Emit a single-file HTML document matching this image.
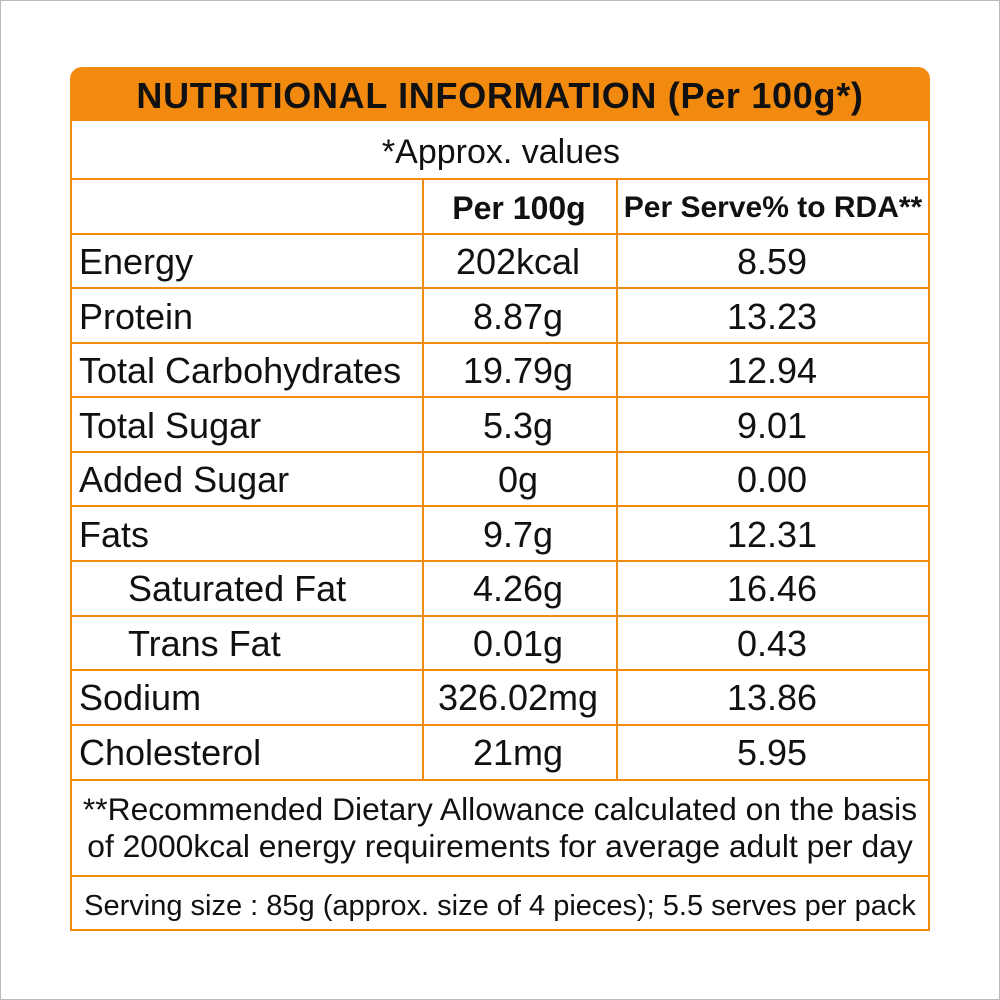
<!DOCTYPE html>
<html><head><meta charset="utf-8"><style>
body{margin:0;width:1000px;height:1000px;background:#fff;position:relative;overflow:hidden;font-family:"Liberation Sans",sans-serif;color:#111}
.frame{position:absolute;left:0;top:0;width:998px;height:998px;border:1px solid #bbb}
.hdr{position:absolute;left:70px;top:67px;width:860px;height:54px;background:#f28a0f;border-radius:12px 12px 0 0;text-align:center;line-height:58px;font-weight:bold;font-size:36px;letter-spacing:0.7px;color:#111}
.tbl{position:absolute;left:70px;top:121px;width:856px;height:808px;border:2px solid #f28a0f;border-top:none;box-sizing:content-box}
.h{position:absolute;left:0;width:856px;height:2px;background:#f28a0f}
.v{position:absolute;width:2px;background:#f28a0f;top:57px;height:601px}
.t{position:absolute;font-size:36px;white-space:nowrap;line-height:54px}
.c{text-align:center}
</style></head><body>
<div class="frame"></div>
<div class="hdr">NUTRITIONAL INFORMATION (Per 100g*)</div>
<div class="tbl">
<div class="h" style="top:57px"></div>
<div class="h" style="top:112px"></div>
<div class="h" style="top:166px"></div>
<div class="h" style="top:221px"></div>
<div class="h" style="top:275px"></div>
<div class="h" style="top:330px"></div>
<div class="h" style="top:384px"></div>
<div class="h" style="top:439px"></div>
<div class="h" style="top:494px"></div>
<div class="h" style="top:548px"></div>
<div class="h" style="top:603px"></div>
<div class="h" style="top:658px"></div>
<div class="h" style="top:754px"></div>
<div class="v" style="left:350px"></div>
<div class="v" style="left:544px"></div>
<div class="t c" style="left:0;width:858px;top:4px;font-size:34px">*Approx. values</div>
<div class="t c" style="left:350px;width:194px;top:60px;font-weight:bold;font-size:32px">Per 100g</div>
<div class="t c" style="left:544px;width:314px;top:60px;font-weight:bold;font-size:30px">Per Serve% to RDA**</div>
</div>
<div id="rows"></div>
<script>
var d=[["Energy","202kcal","8.59"],["Protein","8.87g","13.23"],["Total Carbohydrates","19.79g","12.94"],["Total Sugar","5.3g","9.01"],["Added Sugar","0g","0.00"],["Fats","9.7g","12.31"],["   Saturated Fat","4.26g","16.46"],["   Trans Fat","0.01g","0.43"],["Sodium","326.02mg","13.86"],["Cholesterol","21mg","5.95"]];
var h="";d.forEach(function(r,i){var y=235+i*54.5;var ind=r[0].charAt(0)==" ";
h+='<div class="t" style="left:'+(ind?128:79)+'px;top:'+y+'px">'+r[0].trim()+'</div>';
h+='<div class="t c" style="left:421px;width:194px;top:'+y+'px">'+r[1]+'</div>';
h+='<div class="t c" style="left:615px;width:314px;top:'+y+'px">'+r[2]+'</div>';});
document.getElementById("rows").innerHTML=h;
</script>
<div class="t c" style="left:70px;width:860px;top:791px;font-size:31.8px;line-height:37px">**Recommended Dietary Allowance calculated on the basis<br>of 2000kcal energy requirements for average adult per day</div>
<div class="t c" style="left:70px;width:860px;top:879px;font-size:29px;line-height:54px">Serving size : 85g (approx. size of 4 pieces); 5.5 serves per pack</div>
</body></html>
